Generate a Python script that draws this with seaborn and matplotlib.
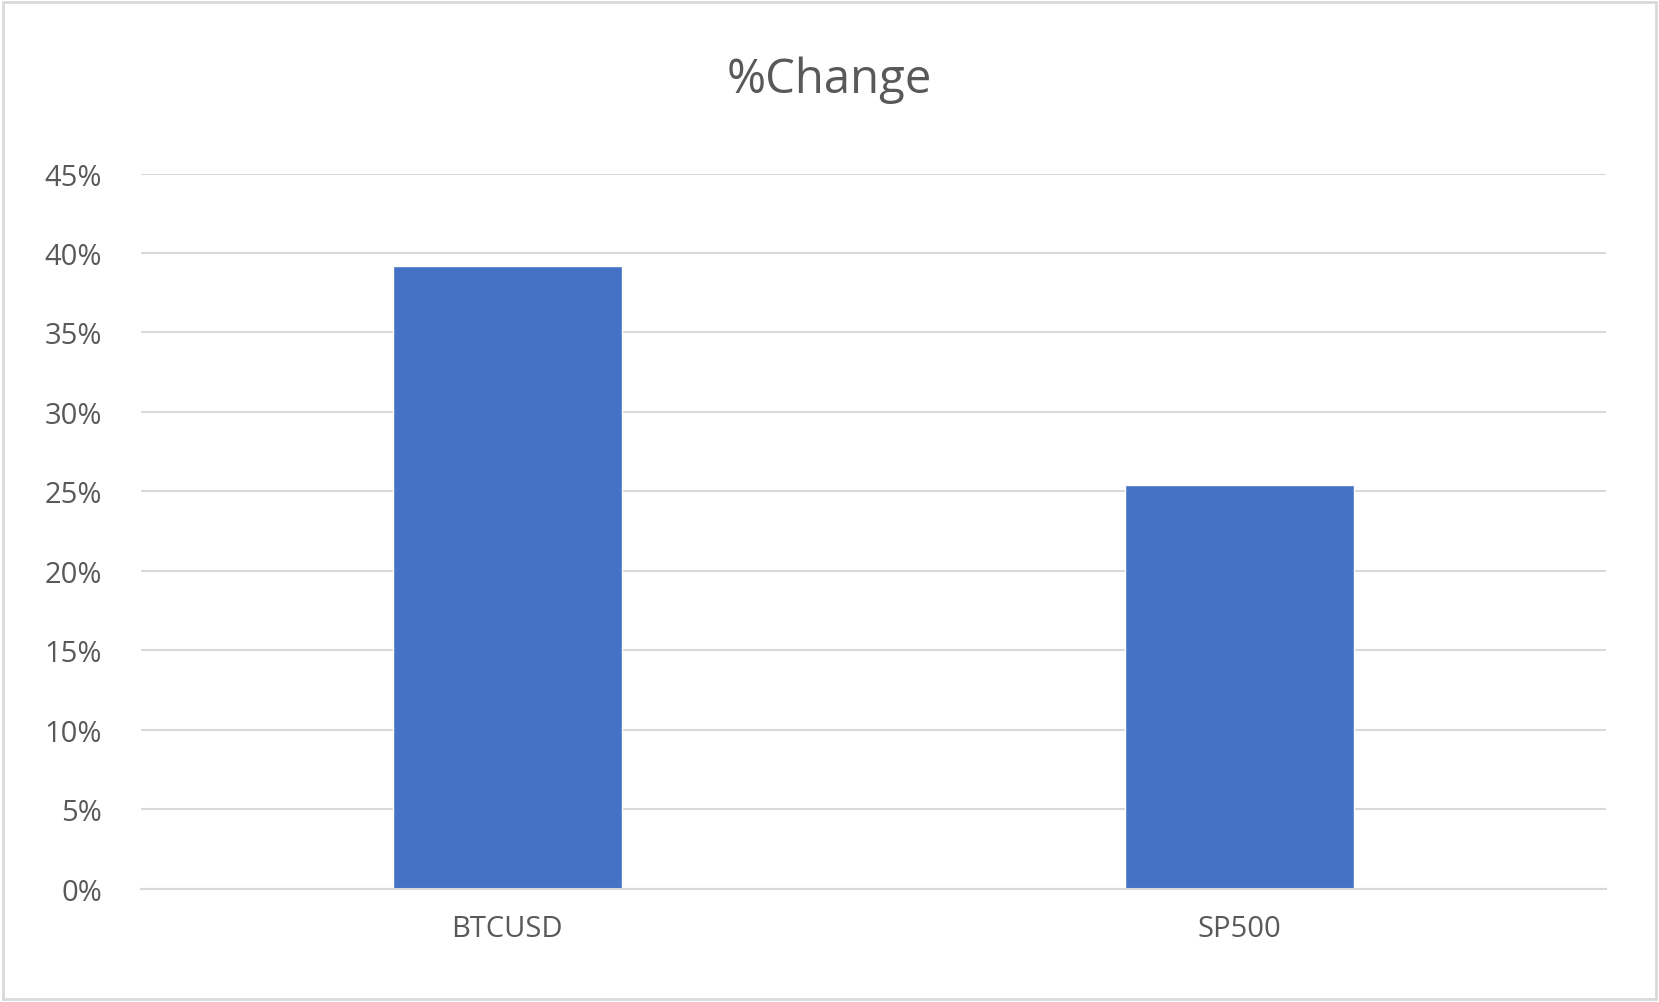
import matplotlib
matplotlib.use("Agg")
import matplotlib.pyplot as plt
import seaborn as sns
import pandas as pd
from matplotlib.ticker import PercentFormatter
from matplotlib.patches import Rectangle

categories = ["BTCUSD", "SP500"]
pct_change = [39.2, 25.4]

sns.set_theme(style="white")
plt.rcParams['font.family'] = ['Open Sans', 'DejaVu Sans']
grey = "#595959"

df = pd.DataFrame({"cat": categories, "val": pct_change})
fig = plt.figure(figsize=(16.59, 10.03), dpi=100)
ax = fig.add_axes([0.085, 0.113, 0.883, 0.713])
sns.barplot(data=df, x="cat", y="val", color="#4472C4", width=0.313, saturation=1, ax=ax)
ax.set_xlim(-0.5, 1.5)
ax.set_ylim(0, 45)
ax.set_yticks(range(0, 46, 5))
ax.yaxis.set_major_formatter(PercentFormatter(decimals=0))
ax.grid(axis="y", color="#D9D9D9", lw=1.5)
ax.set_axisbelow(True)
for s in ["top", "right", "left"]:
    ax.spines[s].set_visible(False)
ax.spines["bottom"].set_color("#D9D9D9")
ax.spines["bottom"].set_linewidth(1.5)
ax.tick_params(axis="both", colors=grey, labelsize=21, length=0)
ax.tick_params(axis="x", pad=18)
ax.tick_params(axis="y", pad=28)
ax.set_xlabel("")
ax.set_ylabel("")
fig.text(0.5, 0.92, "%Change", ha="center", va="center", fontsize=34, color=grey)
fig.patches.append(Rectangle((0.002, 0.003), 0.996, 0.994, transform=fig.transFigure,
                             fill=False, edgecolor="#D9D9D9", lw=2))
fig.savefig("out.png", dpi=100)
